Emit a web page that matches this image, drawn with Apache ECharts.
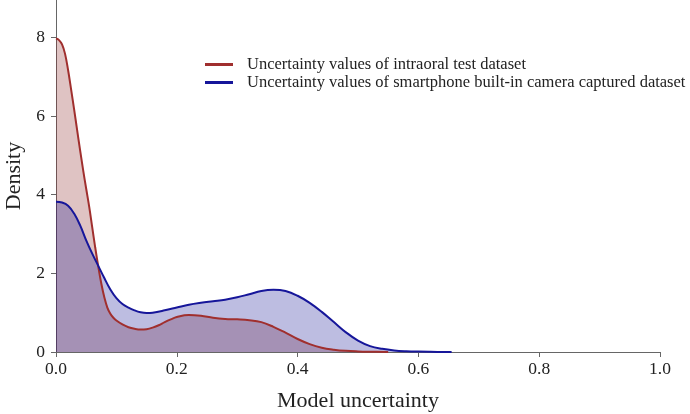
<!DOCTYPE html>
<html>
<head>
<meta charset="utf-8">
<script src="https://cdn.jsdelivr.net/npm/echarts@6/dist/echarts.min.js"></script>
<style>
html,body{margin:0;padding:0;background:#fff;}
#chart{width:690px;height:414px;}
</style>
</head>
<body>
<div id="chart"></div>
<script>
var seriesNames = ['Uncertainty values of intraoral test dataset', 'Uncertainty values of smartphone built-in camera captured dataset'];
var intraoralX = [0.000,0.005,0.010,0.015,0.020,0.025,0.030,0.035,0.040,0.045,0.050,0.055,0.060,0.065,0.070,0.075,0.080,0.085,0.090,0.095,0.10,0.11,0.12,0.13,0.14,0.15,0.16,0.17,0.18,0.19,0.20,0.22,0.24,0.26,0.28,0.30,0.32,0.34,0.36,0.38,0.40,0.42,0.44,0.46,0.48,0.50,0.52,0.55];
var intraoralY = [7.97,7.93,7.82,7.58,7.17,6.68,6.17,5.64,5.12,4.62,4.15,3.69,3.17,2.65,2.17,1.74,1.39,1.13,0.97,0.87,0.80,0.70,0.63,0.59,0.57,0.58,0.62,0.68,0.76,0.83,0.89,0.94,0.92,0.87,0.84,0.83,0.81,0.76,0.64,0.49,0.33,0.20,0.11,0.06,0.03,0.015,0.007,0.0];
var smartphoneX = [0.00,0.01,0.02,0.03,0.04,0.05,0.06,0.07,0.08,0.09,0.10,0.11,0.12,0.13,0.14,0.15,0.16,0.18,0.20,0.22,0.24,0.26,0.28,0.30,0.32,0.34,0.36,0.38,0.40,0.42,0.44,0.46,0.48,0.50,0.52,0.54,0.56,0.58,0.60,0.62,0.655];
var smartphoneY = [3.82,3.80,3.72,3.52,3.22,2.84,2.50,2.19,1.88,1.59,1.37,1.22,1.13,1.06,1.01,0.99,1.00,1.06,1.13,1.20,1.25,1.29,1.33,1.39,1.47,1.55,1.58,1.55,1.43,1.25,1.02,0.76,0.50,0.29,0.15,0.08,0.04,0.02,0.01,0.005,0.0];
var xTicks = [0.0,0.2,0.4,0.6,0.8,1.0];
var yTicks = [0,2,4,6,8];

function pairs(xs, ys){ return xs.map(function(x,i){ return [x, ys[i]]; }); }

var font = 'Liberation Serif';
var chart = echarts.init(document.getElementById('chart'));
chart.setOption({
  animation: false,
  grid: {left: 56, right: 30, top: 0, bottom: 62, containLabel: false, outerBoundsMode: 'none'},
  legend: {
    left: 200, top: 51, orient: 'vertical', itemGap: 1,
    itemWidth: 28, itemHeight: 3, icon: 'rect',
    textStyle: {fontFamily: font, fontSize: 16.5, color: '#222', padding: [0,0,0,9]},
    data: seriesNames
  },
  xAxis: {
    type: 'value', min: 0, max: 1, interval: 0.2,
    name: 'Model uncertainty', nameLocation: 'middle', nameGap: 38,
    nameTextStyle: {fontFamily: font, fontSize: 22, color: '#222'},
    axisLine: {lineStyle: {color: '#666', width: 1}},
    axisTick: {show: true, length: 5, lineStyle: {color: '#666'}, customValues: xTicks},
    axisLabel: {fontFamily: font, fontSize: 17.5, color: '#222', margin: 8, customValues: xTicks,
      formatter: function(v){ return v.toFixed(1); }},
    splitLine: {show: false}
  },
  yAxis: {
    type: 'value', min: 0, max: 8.95,
    name: 'Density', nameLocation: 'middle', nameGap: 30,
    nameTextStyle: {fontFamily: font, fontSize: 22, color: '#222'},
    axisLine: {show: true, lineStyle: {color: '#666', width: 1}},
    axisTick: {show: true, length: 5, lineStyle: {color: '#666'}, customValues: yTicks},
    axisLabel: {fontFamily: font, fontSize: 17.5, color: '#222', margin: 11, customValues: yTicks},
    splitLine: {show: false}
  },
  series: [
    {
      name: seriesNames[0], type: 'line', data: pairs(intraoralX, intraoralY),
      smooth: 0.4, showSymbol: false, symbol: 'none',
      lineStyle: {color: '#a02f2e', width: 2},
      itemStyle: {color: '#a02f2e'},
      areaStyle: {color: 'rgb(140,40,40)', opacity: 0.28}
    },
    {
      name: seriesNames[1], type: 'line', data: pairs(smartphoneX, smartphoneY),
      smooth: 0.4, showSymbol: false, symbol: 'none',
      lineStyle: {color: '#16169a', width: 2},
      itemStyle: {color: '#16169a'},
      areaStyle: {color: 'rgb(0,0,139)', opacity: 0.26}
    }
  ]
});
</script>
</body>
</html>
